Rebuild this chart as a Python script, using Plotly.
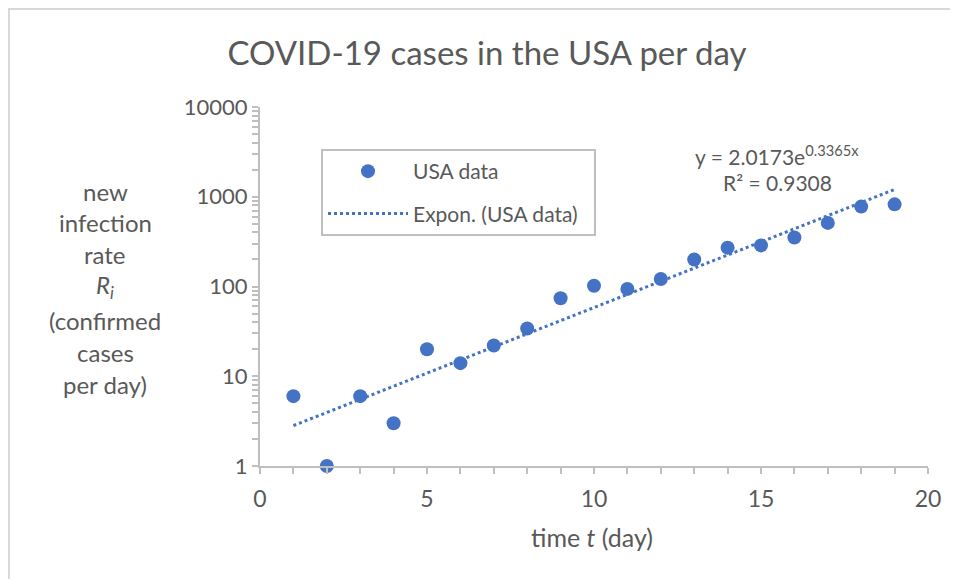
import plotly.graph_objects as go

# ---- data ----
days = [1, 2, 3, 4, 5, 6, 7, 8, 9, 10, 11, 12, 13, 14, 15, 16, 17, 18, 19]
cases = [6, 1, 6, 3, 20, 14, 22, 34, 74, 102, 94, 121, 200, 271, 287, 351, 511, 777, 823]
trend_x = [1, 19]
trend_y = [2.82, 1206]  # fitted y = 2.0173 e^(0.3365 x) at the ends
x_ticks = [0, 5, 10, 15, 20]
y_ticks = [1, 10, 100, 1000, 10000]
y_tick_text = ["1", "10", "100", "1000", "10000"]
y_title_lines = ["new", "infection", "rate", "<i>R<sub>i</sub></i>", "(confirmed", "cases", "per day)"]

FONT = "Lato"
TXT = "#595959"
AX = "#BFBFBF"
BLUE = "#4472C4"

OFF = 8  # page body margin
W, H = 950, 571
L, R, T, B = 252, 30, 99, 113
pw, ph = W - L - R, H - T - B

def px(x):
    return (x - OFF - L) / pw

def py(y):
    return (H - B - (y - OFF)) / ph

fig = go.Figure()
fig.add_trace(go.Scatter(
    x=days, y=cases, mode="markers", name="USA data",
    marker=dict(color=BLUE, size=14), cliponaxis=False, legendgroup="a"))
fig.add_trace(go.Scatter(
    x=trend_x, y=trend_y, mode="lines", name="Expon. (USA data)\u00a0\u00a0",
    line=dict(color=BLUE, width=3, dash="dot"), legendgroup="b"))

annotations = []
ys = [191, 222, 254, 286, 320, 352, 384]
for txt, yy in zip(y_title_lines, ys):
    annotations.append(dict(text=txt, x=px(105), y=py(yy), xref="paper", yref="paper",
                            showarrow=False, xanchor="center", yanchor="middle",
                            font=dict(family=FONT, size=24, color=TXT)))
annotations.append(dict(text="time <i>t</i> (day)", x=px(592), y=py(537), xref="paper", yref="paper",
                        showarrow=False, xanchor="center", yanchor="middle",
                        font=dict(family=FONT, size=25, color=TXT)))
annotations.append(dict(text="y = 2.0173e<sup>0.3365x</sup>", x=px(777), y=py(155), xref="paper", yref="paper",
                        showarrow=False, xanchor="center", yanchor="middle",
                        font=dict(family=FONT, size=21, color=TXT)))
annotations.append(dict(text="R² = 0.9308", x=px(777), y=py(182), xref="paper", yref="paper",
                        showarrow=False, xanchor="center", yanchor="middle",
                        font=dict(family=FONT, size=21, color=TXT)))

shapes = [
    dict(type="line", xref="paper", yref="paper", x0=px(8), x1=px(960), y0=py(9), y1=py(9),
         line=dict(color="#D9D9D9", width=2)),
    dict(type="line", xref="paper", yref="paper", x0=px(9), x1=px(9), y0=py(9), y1=py(590),
         line=dict(color="#D9D9D9", width=2)),
]

fig.update_layout(
    width=W, height=H,
    margin=dict(l=L, r=R, t=T, b=B),
    paper_bgcolor="white", plot_bgcolor="white",
    title=dict(text="COVID-19 cases in the USA per day", x=(487 - OFF) / W, y=1 - (53 - OFF) / H,
               xanchor="center", yanchor="middle",
               font=dict(family=FONT, size=33, color=TXT)),
    xaxis=dict(range=[0, 20], tickvals=x_ticks, showgrid=False, zeroline=False,
               showline=True, linecolor=AX, linewidth=2,
               ticks="outside", ticklen=6, tickcolor=AX, tickwidth=2,
               minor=dict(ticks="outside", dtick=1, ticklen=6, tickcolor=AX, tickwidth=2, showgrid=False),
               tickfont=dict(family=FONT, size=23, color=TXT), ticklabelstandoff=5),
    yaxis=dict(type="log", range=[0, 4], tickvals=y_ticks, ticktext=y_tick_text,
               showgrid=False, zeroline=False,
               showline=True, linecolor=AX, linewidth=2,
               ticks="outside", ticklen=6, tickcolor=AX, tickwidth=2,
               minor=dict(ticks="outside", dtick="D1", ticklen=6, tickcolor=AX, tickwidth=2, showgrid=False),
               tickfont=dict(family=FONT, size=22, color=TXT), ticklabelstandoff=0),
    legend=dict(x=px(321), y=py(149), xanchor="left", yanchor="top",
                bordercolor=AX, borderwidth=2, bgcolor="white",
                font=dict(family=FONT, size=21, color=TXT),
                itemwidth=80, tracegroupgap=12, traceorder="grouped"),
    annotations=annotations,
    shapes=shapes,
    showlegend=True,
)

fig.write_html("out.html")
